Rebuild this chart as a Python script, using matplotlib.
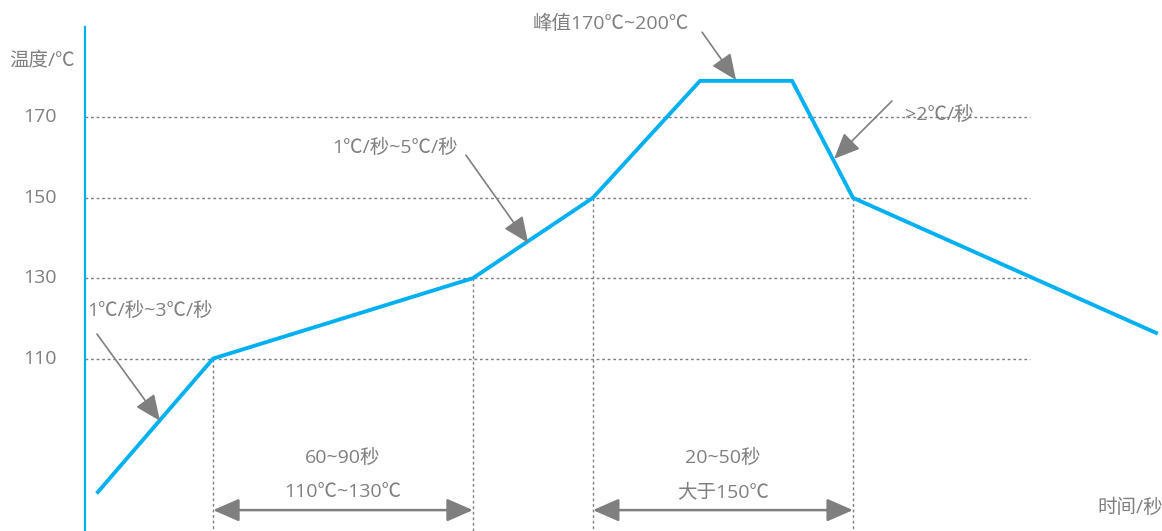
import matplotlib
matplotlib.use("Agg")
import matplotlib.pyplot as plt

# Open Sans for latin/digits, CJK font for the rest
plt.rcParams['font.family'] = ['Open Sans', 'Noto Sans CJK SC', 'DejaVu Sans']

# reflow temperature profile (time in arbitrary units, temp in degC)
time_pts = [4.3, 42.7, 129.3, 169.3, 205.0, 235.7, 256.0, 357.0]
temp_pts = [76.8, 110, 130, 150, 179.1, 179.1, 150, 116.4]

ytick_vals = [110, 130, 150, 170]
ytick_labels = ['110', '130', '150', '170']

# index of the points that get a vertical dashed guide
guide_idx = [1, 2, 3, 6]

blue = '#00B0F0'
gray = '#7F7F7F'
fs = 14

fig = plt.figure(figsize=(11.62, 5.31), dpi=100)
ax = fig.add_axes([85 / 1162, 0, 1077 / 1162, 504 / 531])
ax.set_xlim(0, 359)
ax.set_ylim(67.1, 192.5)

for s in ['top', 'right', 'bottom']:
    ax.spines[s].set_visible(False)
ax.spines['left'].set_color(blue)
ax.spines['left'].set_linewidth(1.6)
ax.set_xticks([])
ax.set_yticks([])

# y labels drawn as text so they use the same fonts as the rest
ytrans = ax.get_yaxis_transform()
for v, lab in zip(ytick_vals, ytick_labels):
    ax.text(-0.026, v, lab, transform=ytrans, ha='right', va='center',
            fontsize=14, color=gray, clip_on=False)

# horizontal guides
for v in ytick_vals:
    ax.plot([0, 315], [v, v], color=gray, lw=1, ls=(0, (2, 2)), zorder=1)

# vertical guides
for i in guide_idx:
    ax.plot([time_pts[i], time_pts[i]], [temp_pts[i], 67.1], color=gray, lw=1,
            ls=(0, (2, 2)), zorder=1)

ax.plot(time_pts, temp_pts, color=blue, lw=2.8, solid_joinstyle='miter', zorder=3)

# double arrows for the two zones
head = '<|-|>,head_length=0.8,head_width=0.35'
for a, b in [(1, 2), (3, 6)]:
    ax.annotate('', xy=(time_pts[b], 72.3), xytext=(time_pts[a], 72.3),
                arrowprops=dict(arrowstyle=head, mutation_scale=20, color=gray,
                                lw=1.8, shrinkA=0, shrinkB=0))

mid1 = (time_pts[1] + time_pts[2]) / 2
mid2 = (time_pts[3] + time_pts[6]) / 2
ax.text(mid1, 85.3, '60~90秒', ha='center', va='center', fontsize=fs, color=gray)
ax.text(mid1, 76.8, '110℃~130℃', ha='center', va='center', fontsize=fs, color=gray)
ax.text(mid2, 85.3, '20~50秒', ha='center', va='center', fontsize=fs, color=gray)
ax.text(mid2, 76.8, '大于150℃', ha='center', va='center', fontsize=fs, color=gray)

# slope annotations
one = '-|>,head_length=0.8,head_width=0.35'
notes = [
    ('1℃/秒~3℃/秒', (21.7, 121.8), (4.0, 116.1), (25.0, 94.5)),
    ('1℃/秒~5℃/秒', (103.3, 162.4), (127.0, 160.6), (147.7, 138.8)),
    ('峰值170℃~200℃', (175.3, 193.2), (205.7, 191.2), (217.0, 179.3)),
    ('>2℃/秒', (284.7, 170.6), (269.0, 174.1), (249.7, 159.7)),
]
for txt, tpos, start, tip in notes:
    ax.text(tpos[0], tpos[1], txt, ha='center', va='center', fontsize=fs,
            color=gray, clip_on=False)
    ax.annotate('', xy=tip, xytext=start, annotation_clip=False,
                arrowprops=dict(arrowstyle=one, mutation_scale=20, color=gray,
                                lw=1.2, shrinkA=0, shrinkB=0))

ax.text(-14.3, 184.3, '温度/℃', ha='center', va='center', fontsize=fs,
        color=gray, clip_on=False)
ax.text(348.3, 72.8, '时间/秒', ha='center', va='center', fontsize=fs, color=gray)

fig.savefig('out.png', dpi=100)
